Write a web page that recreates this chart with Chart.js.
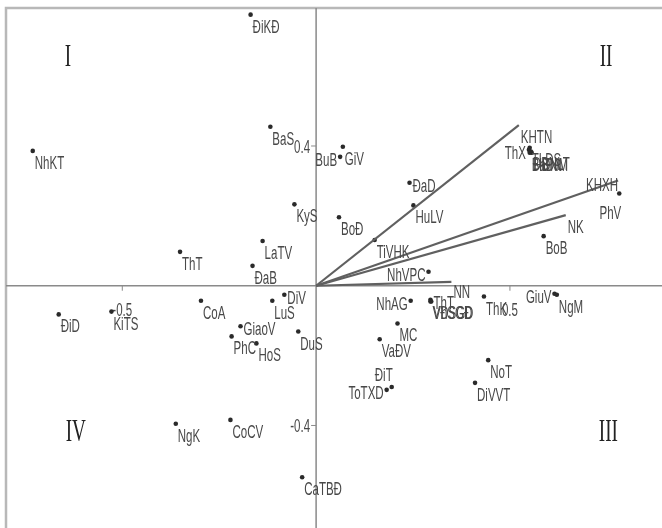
<!DOCTYPE html>
<html>
<head>
<meta charset="utf-8">
<script src="https://cdn.jsdelivr.net/npm/chart.js@4/dist/chart.umd.min.js"></script>
<style>
  html, body { margin: 0; padding: 0; background: #fff; overflow: hidden; }
  #wrap { width: 662px; height: 528px; position: relative; overflow: hidden; }
</style>
</head>
<body>
<div id="wrap"><canvas id="c"></canvas></div>
<script>
// Site scores on the first two axes
const siteNames = ['ĐiKĐ','BaS','NhKT','KyS','LaTV','ThT','GiV','BuB','ĐaD','HuLV','BoĐ','TiVHK','NhVPC','ĐaB',
  'DiV','LuS','CoA','GiaoV','PhC','HoS','DuS','ĐiD','KiTS','NgK','CoCV','CaTBĐ','NhAG','ThT','VĐSGD','VhSGĐ',
  'ThK','GiuV','NgM','MC','VaĐV','ĐiT','ToTXD','NoT','DiVVT','ThX','TLĐS','ĐBNLT','HĐNM','BaĐN','PhV','BoB'];
const siteX = [-0.169,-0.118,-0.731,-0.056,-0.138,-0.351,0.069,0.062,0.241,0.251,0.059,0.151,0.290,-0.164,
  -0.082,-0.113,-0.297,-0.195,-0.218,-0.154,-0.046,-0.664,-0.528,-0.362,-0.221,-0.036,0.244,0.295,0.295,0.297,
  0.433,0.615,0.621,0.210,0.164,0.195,0.182,0.444,0.410,0.549,0.551,0.554,0.556,0.551,0.782,0.587];
const siteY = [0.776,0.455,0.386,0.233,0.128,0.097,0.398,0.369,0.295,0.230,0.196,0.131,0.040,0.057,
  -0.026,-0.043,-0.043,-0.116,-0.145,-0.165,-0.131,-0.082,-0.074,-0.395,-0.384,-0.548,-0.043,-0.040,-0.045,-0.045,
  -0.031,-0.023,-0.026,-0.108,-0.153,-0.290,-0.298,-0.213,-0.278,0.389,0.395,0.384,0.381,0.381,0.264,0.142];

// Variable loadings (arrows from the origin)
const vecNames = ['KHTN','KHXH','NK','NN'];
const vecX = [0.523, 0.779, 0.644, 0.349];
const vecY = [0.460, 0.301, 0.202, 0.011];

// Axis ticks and quadrant names
const xTicks = [-0.5, 0.5];
const yTicks = [0.4, -0.4];
const quadrants = ['I','II','III','IV'];

// Where each label sits relative to its marker
const siteAnchor = ['r','r','r','r','r','r','r','l','rc','r','r','r','l','r',
  'rc','r','r','rc','r','r','r','r','r','r','r','r','l','rc','r','r',
  'r','l','r','r','r','a','l','r','r','l','r','r','r','r','b','r'];
const vecAnchor = ['r','c','r','n'];

const LABEL_FONT = '18px "Liberation Sans Narrow", "Liberation Sans", sans-serif';
const LABEL_SCALE = 0.64;
const TEXT_COLOR = '#484848';

function drawSquashed(ctx, text, x, y, align, sx) {
  ctx.save();
  ctx.translate(x, y);
  ctx.scale(sx, 1);
  ctx.textAlign = align;
  ctx.fillText(text, 0, 0);
  ctx.restore();
}

function placeLabel(ctx, text, px, py, anchor) {
  switch (anchor) {
    case 'l':  drawSquashed(ctx, text, px - 3, py + 9, 'right', LABEL_SCALE); break;
    case 'rc': drawSquashed(ctx, text, px + 3, py + 9, 'left', LABEL_SCALE); break;
    case 'a':  drawSquashed(ctx, text, px + 1, py - 6, 'right', LABEL_SCALE); break;
    case 'b':  drawSquashed(ctx, text, px + 2, py + 25, 'right', LABEL_SCALE); break;
    case 'c':  drawSquashed(ctx, text, px, py + 10, 'right', LABEL_SCALE); break;
    case 'n':  drawSquashed(ctx, text, px + 2, py + 16, 'left', LABEL_SCALE); break;
    default:   drawSquashed(ctx, text, px + 2, py + 18, 'left', LABEL_SCALE);
  }
}

const backdrop = {
  id: 'backdrop',
  beforeDatasetsDraw(chart) {
    const { ctx, chartArea: a, scales: { x, y } } = chart;
    const x0 = x.getPixelForValue(0), y0 = y.getPixelForValue(0);
    ctx.save();
    // frame (top and left edges)
    ctx.strokeStyle = '#b8b8b8';
    ctx.lineWidth = 2.5;
    ctx.beginPath();
    ctx.moveTo(a.left, chart.height);
    ctx.lineTo(a.left, a.top);
    ctx.lineTo(chart.width, a.top);
    ctx.stroke();
    // axes through the origin
    ctx.strokeStyle = '#8a8a8a';
    ctx.lineWidth = 1.5;
    ctx.beginPath();
    ctx.moveTo(a.left, y0); ctx.lineTo(chart.width, y0);
    ctx.moveTo(x0, a.top); ctx.lineTo(x0, chart.height);
    ctx.stroke();
    // ticks and tick labels
    ctx.lineWidth = 1;
    ctx.font = LABEL_FONT;
    ctx.fillStyle = TEXT_COLOR;
    xTicks.forEach(v => {
      const px = x.getPixelForValue(v);
      ctx.beginPath(); ctx.moveTo(px, y0); ctx.lineTo(px, y0 + 5); ctx.stroke();
      drawSquashed(ctx, String(v), px, y0 + 30, 'center', LABEL_SCALE);
    });
    yTicks.forEach(v => {
      const py = y.getPixelForValue(v);
      ctx.beginPath(); ctx.moveTo(x0, py); ctx.lineTo(x0 - 5, py); ctx.stroke();
      drawSquashed(ctx, String(v), x0 - 6, py + 7, 'right', LABEL_SCALE);
    });
    // quadrant numerals
    ctx.font = '32px "Liberation Serif", "DejaVu Serif", serif';
    ctx.fillStyle = '#222';
    const qx = [x.getPixelForValue(-0.64), x.getPixelForValue(0.748), x.getPixelForValue(0.754), x.getPixelForValue(-0.62)];
    const qy = [y.getPixelForValue(0.63), y.getPixelForValue(0.63), y.getPixelForValue(-0.445), y.getPixelForValue(-0.445)];
    quadrants.forEach((q, i) => drawSquashed(ctx, q, qx[i], qy[i], 'center', 0.6));
    ctx.restore();
  },
  afterDatasetsDraw(chart) {
    const { ctx, scales: { x, y } } = chart;
    ctx.save();
    ctx.font = LABEL_FONT;
    ctx.fillStyle = TEXT_COLOR;
    siteNames.forEach((n, i) => {
      placeLabel(ctx, n, x.getPixelForValue(siteX[i]), y.getPixelForValue(siteY[i]), siteAnchor[i]);
    });
    vecNames.forEach((n, i) => {
      placeLabel(ctx, n, x.getPixelForValue(vecX[i]), y.getPixelForValue(vecY[i]), vecAnchor[i]);
    });
    ctx.restore();
  }
};

const vectorSets = vecNames.map((n, i) => ({
  label: n,
  type: 'line',
  data: [{ x: 0, y: 0 }, { x: vecX[i], y: vecY[i] }],
  borderColor: '#606060',
  borderWidth: 2.2,
  pointRadius: 0,
  fill: false,
  clip: false
}));

new Chart(document.getElementById('c'), {
  type: 'scatter',
  data: {
    datasets: [
      ...vectorSets,
      {
        label: 'sites',
        data: siteX.map((v, i) => ({ x: v, y: siteY[i] })),
        pointRadius: 2.3,
        pointBackgroundColor: '#2a2a2a',
        pointBorderWidth: 0,
        clip: false
      }
    ]
  },
  options: {
    responsive: true,
    maintainAspectRatio: false,
    animation: false,
    layout: { padding: { left: 6, top: 8, right: 0, bottom: 0 } },
    plugins: { legend: { display: false }, tooltip: { enabled: false } },
    scales: {
      x: { type: 'linear', min: -0.8, max: 0.882, display: false },
      y: { type: 'linear', min: -0.682, max: 0.795, display: false }
    }
  },
  plugins: [backdrop]
});
</script>
</body>
</html>
